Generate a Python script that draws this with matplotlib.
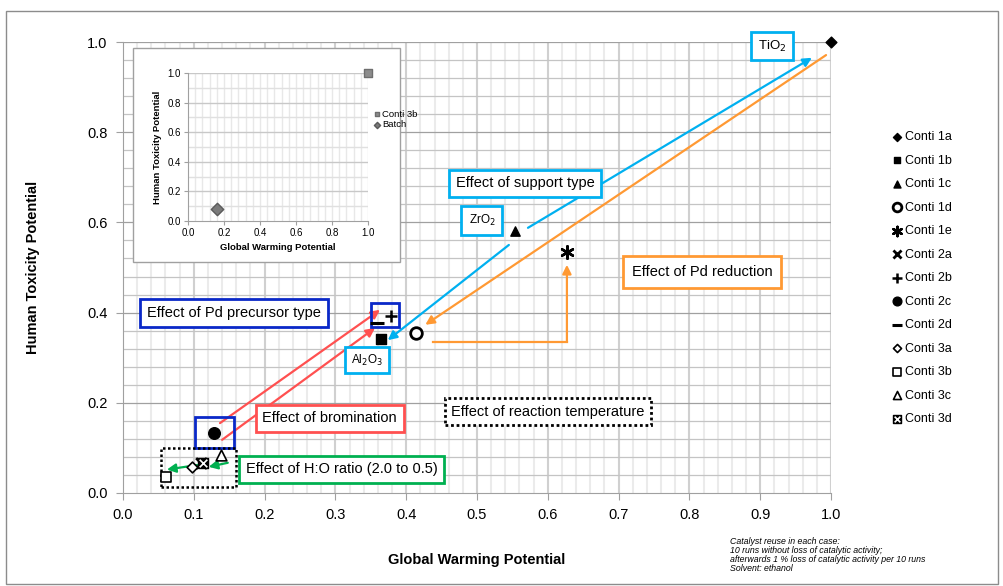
import numpy as np
import matplotlib
matplotlib.use("Agg")
import matplotlib.pyplot as plt
from matplotlib.patches import Rectangle
from matplotlib.legend_handler import HandlerTuple

plt.rcParams['font.family'] = ['Liberation Sans', 'DejaVu Sans']

# ---- data (GWP, HTP) ----
labels = ["Conti 1a", "Conti 1b", "Conti 1c", "Conti 1d", "Conti 1e", "Conti 2a",
          "Conti 2b", "Conti 2c", "Conti 2d", "Conti 3a", "Conti 3b", "Conti 3c",
          "Conti 3d"]
gwp = [1.000, 0.364, 0.554, 0.414, 0.627, 0.110, 0.379, 0.129, 0.359, 0.097, 0.061, 0.138, 0.113]
htp = [1.000, 0.341, 0.581, 0.355, 0.534, 0.067, 0.392, 0.133, 0.377, 0.058, 0.035, 0.084, 0.067]

inset_labels = ["Conti 3b", "Batch"]
inset_gwp = [1.0, 0.16]
inset_htp = [1.0, 0.08]

x_ticks = np.round(np.arange(0, 1.01, 0.1), 1)
y_ticks = np.round(np.arange(0, 1.01, 0.2), 1)

# marker style per series: (marker, facecolor, edgecolor, size, linewidth)
styles = [
    ("D", "black", "black", 30, 1.0),
    ("s", "black", "black", 45, 1.0),
    ("^", "black", "black", 45, 1.0),
    ("o", "white", "black", 70, 2.0),
    ((6, 2, 0), "black", "black", 80, 1.8),
    ("x", "black", "black", 60, 2.0),
    ("+", "black", "black", 80, 1.8),
    ("o", "black", "black", 70, 1.0),
    ("_", "black", "black", 90, 2.2),
    ("D", "white", "black", 30, 1.2),
    ("s", "white", "black", 60, 1.2),
    ("^", "white", "black", 60, 1.2),
    ("s", "black", "black", 60, 1.0),
]

W, H = 1004, 586
fig = plt.figure(figsize=(W / 100, H / 100), dpi=100)
ax = fig.add_axes([123 / W, (H - 493) / H, 708 / W, 451 / H])
ax.set_xlim(0, 1)
ax.set_ylim(0, 1)

# grid
for v in np.arange(0.02, 1.001, 0.02):
    major = abs(v * 10 - round(v * 10)) < 1e-6
    ax.axvline(v, color="#d0d0d0" if major else "#ebebeb", lw=1.5, zorder=0)
for v in np.arange(0.04, 1.001, 0.04):
    major = abs(v * 5 - round(v * 5)) < 1e-6
    ax.axhline(v, color="#a0a0a0" if major else "#c4c4c4", lw=0.9, zorder=0)

for s in ["top", "right"]:
    ax.spines[s].set_visible(False)
for s in ["left", "bottom"]:
    ax.spines[s].set_color("#a0a0a0")
ax.set_xticks(x_ticks)
ax.set_yticks(y_ticks)
ax.set_xticklabels([f"{t:.1f}" for t in x_ticks])
ax.set_yticklabels([f"{t:.1f}" for t in y_ticks])
ax.tick_params(labelsize=10.5, color="#a0a0a0", length=5, pad=6)
ax.set_xlabel("Global Warming Potential", fontsize=10.5, fontweight="bold", labelpad=22)
ax.set_ylabel("Human Toxicity Potential", fontsize=10.5, fontweight="bold", labelpad=34)

handles = []
for i, lab in enumerate(labels):
    m, fc, ec, sz, lw = styles[i]
    h = ax.scatter(gwp[i], htp[i], marker=m, s=sz, facecolor=fc, edgecolor=ec,
                   linewidths=lw, zorder=6, clip_on=False)
    if lab == "Conti 3d":
        hx = ax.scatter(gwp[i], htp[i], marker="x", s=30, color="white", linewidths=1.2,
                        zorder=7)
        handles.append((h, hx))
    else:
        handles.append(h)

leg = fig.legend(handles, labels, loc="upper left", bbox_to_anchor=(878 / W, 1 - 120 / H),
                 frameon=False, fontsize=9, labelspacing=0.92, handletextpad=0.05,
                 handlelength=1.2, markerscale=0.75,
                 handler_map={tuple: HandlerTuple(ndivide=None, pad=-1.2)})

# ---- annotation colours ----
c_light = "#00B0F0"
c_orange = "#FF9933"
c_red = "#FF5050"
c_dblue = "#0A28C8"
c_green = "#00B050"


def box(x, y, s, ec, ls="-", fs=10.5, pad=0.45):
    ax.text(x, y, s, ha="center", va="center", fontsize=fs, zorder=9,
            bbox=dict(boxstyle=f"square,pad={pad}", fc="white", ec=ec, lw=2, ls=ls))


def arrow(p0, p1, color):
    ax.annotate("", xy=p1, xytext=p0, zorder=5,
                arrowprops=dict(arrowstyle="-|>", color=color, lw=1.6,
                                shrinkA=0, shrinkB=0, mutation_scale=13))


# support type arrows
arrow((0.545, 0.550), (0.374, 0.339), c_light)
arrow((0.572, 0.588), (0.973, 0.965), c_light)
# Pd reduction arrows
arrow((0.993, 0.971), (0.427, 0.373), c_orange)
ax.plot([0.438, 0.627], [0.335, 0.335], color=c_orange, lw=1.6, zorder=5)
arrow((0.627, 0.335), (0.627, 0.506), c_orange)
# precursor / bromination arrows
arrow((0.137, 0.155), (0.363, 0.406), c_red)
arrow((0.140, 0.118), (0.356, 0.366), c_red)
# H:O ratio arrows
arrow((0.148, 0.067), (0.121, 0.058), c_green)
arrow((0.105, 0.062), (0.062, 0.052), c_green)

# rectangles around point groups
ax.add_patch(Rectangle((0.102, 0.100), 0.055, 0.069, fill=False, ec=c_dblue, lw=2, zorder=5))
ax.add_patch(Rectangle((0.350, 0.368), 0.040, 0.053, fill=False, ec=c_dblue, lw=2, zorder=5))
ax.add_patch(Rectangle((0.054, 0.013), 0.106, 0.087, fill=False, ec="black", lw=1.8,
                       ls=(0, (1, 1)), zorder=5))

box(0.917, 0.991, "TiO$_2$", c_light, fs=9.5, pad=0.5)
box(0.507, 0.605, "ZrO$_2$", c_light, fs=8.5, pad=0.6)
box(0.345, 0.295, "Al$_2$O$_3$", c_light, fs=8.5, pad=0.5)
box(0.568, 0.687, "Effect of support type", c_light)
box(0.818, 0.490, "Effect of Pd reduction", c_orange, pad=0.6)
box(0.157, 0.399, "Effect of Pd precursor type", c_dblue, pad=0.5)
box(0.292, 0.166, "Effect of bromination", c_red, pad=0.45)
box(0.600, 0.180, "Effect of reaction temperature", "black", ls=(0, (1, 1)), pad=0.45)
box(0.309, 0.053, "Effect of H:O ratio (2.0 to 0.5)", c_green, pad=0.45)

# ---- inset chart ----
fig.add_artist(Rectangle((133 / W, 1 - 262 / H), 267 / W, 214 / H, transform=fig.transFigure,
                         fc="white", ec="#a0a0a0", lw=1.0, zorder=1))
ins = fig.add_axes([188 / W, 1 - 221 / H, 180 / W, 148 / H], zorder=2)
ins.set_xlim(0, 1)
ins.set_ylim(0, 1)
for v in np.arange(0.04, 1.001, 0.04):
    ins.axvline(v, color="#e8e8e8", lw=1.0, zorder=0)
for v in np.arange(0.1, 1.001, 0.1):
    major = abs(v * 5 - round(v * 5)) < 1e-6
    ins.axhline(v, color="#c8c8c8" if major else "#e0e0e0", lw=1.0, zorder=0)
for s in ["top", "right"]:
    ins.spines[s].set_visible(False)
for s in ["left", "bottom"]:
    ins.spines[s].set_color("#a0a0a0")
ins.set_xticks(y_ticks)
ins.set_yticks(y_ticks)
ins.set_xticklabels([f"{t:.1f}" for t in y_ticks])
ins.set_yticklabels([f"{t:.1f}" for t in y_ticks])
ins.tick_params(labelsize=7, length=3, color="#a0a0a0", pad=2)
ins.set_xlabel("Global Warming Potential", fontsize=6.8, fontweight="bold", labelpad=4)
ins.set_ylabel("Human Toxicity Potential", fontsize=6.8, fontweight="bold", labelpad=4)
ins.scatter(inset_gwp[0], inset_htp[0], marker="s", s=28, color="#8c8c8c",
            edgecolor="#6e6e6e", zorder=5, clip_on=False, label=inset_labels[0])
ins.scatter(inset_gwp[1], inset_htp[1], marker="D", s=40, color="#7a7a7a",
            edgecolor="#5a5a5a", zorder=5, clip_on=False, label=inset_labels[1])
ins.legend(loc="upper left", bbox_to_anchor=(1.0, 0.79), frameon=False, fontsize=6.8,
           handletextpad=0.1, labelspacing=0.15, handlelength=0.8, markerscale=0.5,
           borderaxespad=0.2)

# ---- footnote ----
notes = ["Catalyst reuse in each case:",
         "10 runs without loss of catalytic activity;",
         "afterwards 1 % loss of catalytic activity per 10 runs",
         "Solvent: ethanol"]
for i, line in enumerate(notes):
    fig.text(730 / W, 1 - (541 + 9.3 * i) / H, line, fontsize=6.3, style="italic",
             va="center", ha="left")

# outer frame
fig.add_artist(Rectangle((6 / W, 1 - 584 / H), 992 / W, 573 / H, transform=fig.transFigure,
                         fill=False, ec="#8c8c8c", lw=1.0, zorder=0))

fig.savefig("out.png", dpi=100)
